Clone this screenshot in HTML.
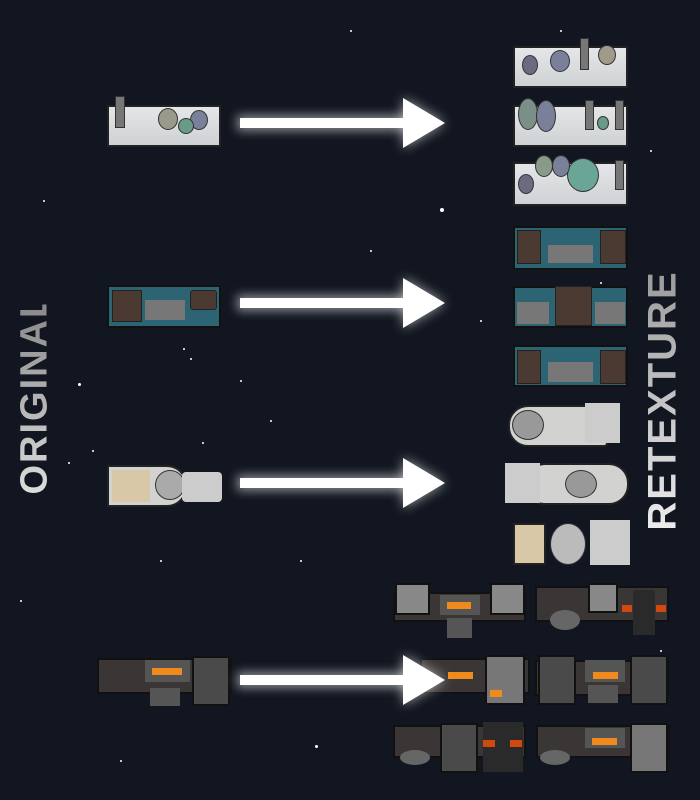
<!DOCTYPE html>
<html><head><style>
body{margin:0;width:700px;height:800px;background:#111620;position:relative;overflow:hidden;font-family:"Liberation Sans",sans-serif}
.a{position:absolute}
.lab{position:absolute;font-weight:bold;letter-spacing:2px;transform:rotate(-90deg);transform-origin:center;white-space:nowrap;background:linear-gradient(90deg,#ddd,#888);-webkit-background-clip:text;color:transparent}
.sh{position:absolute;height:10px;background:#fff;box-shadow:0 0 10px 3px rgba(255,255,255,.5)}
.hd{position:absolute;width:0;height:0;border-top:25px solid transparent;border-bottom:25px solid transparent;border-left:42px solid #fff;filter:drop-shadow(0 0 6px rgba(255,255,255,.6))}
.lab1{background:linear-gradient(180deg,#e4e6e8,#cfd2d4);border:2px solid #222;box-sizing:border-box}
.fl{position:absolute;border-radius:50%;border:1px solid #333}
.tl{background:#2c6474;border:2px solid #111;box-sizing:border-box}
.br{position:absolute;background:#4a3a32;border:1px solid #222}
.gr{position:absolute;background:#666}
.st{background:#d2d2d0;border:2px solid #222;border-radius:0 20px 20px 0;box-sizing:border-box}
.dk{background:#3a3636;border:2px solid #111;box-sizing:border-box}
.bx{position:absolute;background:#6a6a6a;border:2px solid #111;box-sizing:border-box}
.or{position:absolute;background:#f08a1c;height:7px}
.s{position:absolute;width:2px;height:2px;background:#fff;border-radius:50%}
</style></head><body>
<div class="s" style="left:440px;top:208px;width:4px;height:4px"></div>
<div class="s" style="left:78px;top:383px;width:3px;height:3px"></div>
<div class="s" style="left:68px;top:462px"></div>
<div class="s" style="left:202px;top:442px"></div>
<div class="s" style="left:92px;top:450px"></div>
<div class="s" style="left:43px;top:200px"></div>
<div class="s" style="left:315px;top:745px;width:3px;height:3px"></div>
<div class="s" style="left:600px;top:282px"></div>
<div class="s" style="left:160px;top:560px"></div>
<div class="s" style="left:350px;top:30px"></div>
<div class="s" style="left:270px;top:420px"></div>
<div class="s" style="left:560px;top:30px"></div>
<div class="s" style="left:183px;top:348px"></div>
<div class="s" style="left:190px;top:358px"></div>
<div class="s" style="left:240px;top:380px"></div>
<div class="s" style="left:300px;top:560px"></div>
<div class="s" style="left:650px;top:150px"></div>
<div class="s" style="left:480px;top:320px"></div>
<div class="s" style="left:20px;top:600px"></div>
<div class="s" style="left:120px;top:760px"></div>
<div class="s" style="left:370px;top:250px"></div>
<div class="s" style="left:660px;top:650px"></div>

<div class="lab" style="font-size:38px;left:-60px;top:378px;width:190px;text-align:center">ORIGINAL</div>
<div class="lab" style="font-size:40px;left:528px;top:378px;width:270px;text-align:center;background:linear-gradient(90deg,#eee,#999);-webkit-background-clip:text">RETEXTURE</div>

<div class="sh" style="left:240px;top:118px;width:170px"></div><div class="hd" style="left:403px;top:98px"></div>
<div class="sh" style="left:240px;top:298px;width:170px"></div><div class="hd" style="left:403px;top:278px"></div>
<div class="sh" style="left:240px;top:478px;width:170px"></div><div class="hd" style="left:403px;top:458px"></div>

<div class="a lab1" style="left:107px;top:105px;width:114px;height:42px"></div>
<div class="a" style="left:115px;top:96px;width:8px;height:30px;background:#777;border:1px solid #333"></div>
<div class="fl" style="left:158px;top:108px;width:18px;height:20px;background:#9a9a8a"></div>
<div class="fl" style="left:190px;top:110px;width:16px;height:18px;background:#7a7f9a"></div>
<div class="fl" style="left:178px;top:118px;width:14px;height:14px;background:#6a9a88"></div>
<div class="a lab1" style="left:513px;top:46px;width:115px;height:42px"></div>
<div class="fl" style="left:522px;top:55px;width:14px;height:18px;background:#6a6a80"></div>
<div class="fl" style="left:550px;top:50px;width:18px;height:20px;background:#7a7f9a"></div>
<div class="a" style="left:580px;top:38px;width:7px;height:30px;background:#777;border:1px solid #333"></div>
<div class="fl" style="left:598px;top:45px;width:16px;height:18px;background:#a09a88"></div>
<div class="a lab1" style="left:513px;top:105px;width:115px;height:42px"></div>
<div class="fl" style="left:518px;top:98px;width:18px;height:30px;background:#7a8f88"></div>
<div class="fl" style="left:536px;top:100px;width:18px;height:30px;background:#7a7f9a"></div>
<div class="a" style="left:585px;top:100px;width:7px;height:28px;background:#777;border:1px solid #333"></div>
<div class="a" style="left:615px;top:100px;width:7px;height:28px;background:#777;border:1px solid #333"></div>
<div class="fl" style="left:597px;top:116px;width:10px;height:12px;background:#6a9a88"></div>
<div class="a lab1" style="left:513px;top:162px;width:115px;height:44px"></div>
<div class="fl" style="left:518px;top:174px;width:14px;height:18px;background:#6a6a80"></div>
<div class="fl" style="left:567px;top:158px;width:30px;height:32px;background:#6aa598"></div>
<div class="fl" style="left:535px;top:155px;width:16px;height:20px;background:#8a9a88"></div>
<div class="fl" style="left:552px;top:155px;width:16px;height:20px;background:#7a7f9a"></div>
<div class="a" style="left:615px;top:160px;width:7px;height:28px;background:#777;border:1px solid #333"></div>

<div class="a tl" style="left:107px;top:285px;width:114px;height:43px"></div>
<div class="br" style="left:112px;top:290px;width:28px;height:30px"></div>
<div class="br" style="left:190px;top:290px;width:25px;height:18px;border-radius:3px"></div>
<div class="gr" style="left:145px;top:300px;width:40px;height:20px;background:#777"></div>
<div class="a tl" style="left:513px;top:226px;width:115px;height:44px"></div>
<div class="br" style="left:517px;top:230px;width:22px;height:32px"></div>
<div class="br" style="left:600px;top:230px;width:24px;height:32px"></div>
<div class="gr" style="left:548px;top:245px;width:45px;height:18px;background:#777"></div>
<div class="a tl" style="left:513px;top:286px;width:115px;height:42px"></div>
<div class="br" style="left:555px;top:286px;width:35px;height:38px"></div>
<div class="gr" style="left:517px;top:302px;width:32px;height:22px;background:#777"></div>
<div class="gr" style="left:595px;top:302px;width:30px;height:22px;background:#777"></div>
<div class="a tl" style="left:513px;top:345px;width:115px;height:42px"></div>
<div class="br" style="left:517px;top:350px;width:22px;height:32px"></div>
<div class="br" style="left:600px;top:350px;width:24px;height:32px"></div>
<div class="gr" style="left:548px;top:362px;width:45px;height:20px;background:#777"></div>

<div class="a st" style="left:107px;top:465px;width:80px;height:42px"></div>
<div class="a" style="left:112px;top:470px;width:38px;height:32px;background:#d9c8a8"></div>
<div class="fl" style="left:155px;top:470px;width:28px;height:28px;background:#aaa"></div>
<div class="a" style="left:182px;top:472px;width:40px;height:30px;background:#ccc;border-radius:4px"></div>
<div class="a st" style="left:508px;top:405px;width:100px;height:42px;border-radius:20px 4px 4px 20px"></div>
<div class="fl" style="left:512px;top:410px;width:30px;height:28px;background:#999"></div>
<div class="a" style="left:585px;top:403px;width:35px;height:40px;background:#ccc"></div>
<div class="a st" style="left:525px;top:463px;width:104px;height:42px;border-radius:20px"></div>
<div class="a" style="left:505px;top:463px;width:35px;height:40px;background:#ccc"></div>
<div class="fl" style="left:565px;top:470px;width:30px;height:26px;background:#999"></div>
<div class="a lab1" style="left:513px;top:523px;width:33px;height:42px;background:#d9c8a8"></div>
<div class="fl" style="left:550px;top:523px;width:34px;height:40px;background:#bbb"></div>
<div class="a" style="left:590px;top:520px;width:40px;height:45px;background:#ccc"></div>

<div class="a dk" style="left:97px;top:658px;width:135px;height:36px"></div>
<div class="bx" style="left:192px;top:656px;width:38px;height:50px;background:#4a4a4a"></div>
<div class="a" style="left:145px;top:660px;width:45px;height:22px;background:#555"></div><div class="or" style="left:152px;top:668px;width:30px"></div>
<div class="a" style="left:150px;top:688px;width:30px;height:18px;background:#555"></div>

<div class="a dk" style="left:393px;top:592px;width:133px;height:30px"></div>
<div class="bx" style="left:395px;top:583px;width:35px;height:32px;background:#888"></div>
<div class="bx" style="left:490px;top:583px;width:35px;height:32px;background:#888"></div>
<div class="a" style="left:440px;top:595px;width:40px;height:20px;background:#555"></div><div class="or" style="left:447px;top:602px;width:24px"></div>
<div class="a" style="left:447px;top:618px;width:25px;height:20px;background:#555"></div>
<div class="a dk" style="left:535px;top:586px;width:134px;height:36px"></div>
<div class="bx" style="left:588px;top:583px;width:30px;height:30px;background:#888"></div>
<div class="a" style="left:633px;top:590px;width:22px;height:45px;background:#2a2a2a"></div>
<div class="or" style="left:622px;top:605px;width:10px;background:#d04a10"></div><div class="or" style="left:656px;top:605px;width:10px;background:#d04a10"></div>
<div class="a" style="left:550px;top:610px;width:30px;height:20px;background:#666;border-radius:50%"></div>

<div class="a dk" style="left:420px;top:658px;width:110px;height:36px"></div>
<div class="bx" style="left:485px;top:655px;width:40px;height:50px;background:#777"></div>
<div class="or" style="left:448px;top:672px;width:25px"></div><div class="or" style="left:490px;top:690px;width:12px"></div>
<div class="a dk" style="left:535px;top:660px;width:134px;height:36px"></div>
<div class="bx" style="left:538px;top:655px;width:38px;height:50px;background:#4a4a4a"></div>
<div class="bx" style="left:630px;top:655px;width:38px;height:50px;background:#4a4a4a"></div>
<div class="a" style="left:585px;top:660px;width:40px;height:22px;background:#555"></div><div class="or" style="left:593px;top:672px;width:25px"></div>
<div class="a" style="left:588px;top:685px;width:30px;height:18px;background:#555"></div>

<div class="a dk" style="left:393px;top:725px;width:133px;height:33px"></div>
<div class="bx" style="left:440px;top:723px;width:38px;height:50px;background:#4a4a4a"></div>
<div class="a" style="left:483px;top:722px;width:40px;height:50px;background:#2a2a2a"></div>
<div class="or" style="left:483px;top:740px;width:12px;background:#d04a10"></div><div class="or" style="left:510px;top:740px;width:12px;background:#d04a10"></div>
<div class="a" style="left:400px;top:750px;width:30px;height:15px;background:#666;border-radius:50%"></div>
<div class="a dk" style="left:536px;top:725px;width:134px;height:33px"></div>
<div class="bx" style="left:630px;top:723px;width:38px;height:50px;background:#777"></div>
<div class="a" style="left:585px;top:728px;width:40px;height:20px;background:#555"></div><div class="or" style="left:592px;top:738px;width:25px"></div>
<div class="a" style="left:540px;top:750px;width:30px;height:15px;background:#666;border-radius:50%"></div>

<div class="sh" style="left:240px;top:675px;width:170px"></div><div class="hd" style="left:403px;top:655px"></div>
</body></html>
